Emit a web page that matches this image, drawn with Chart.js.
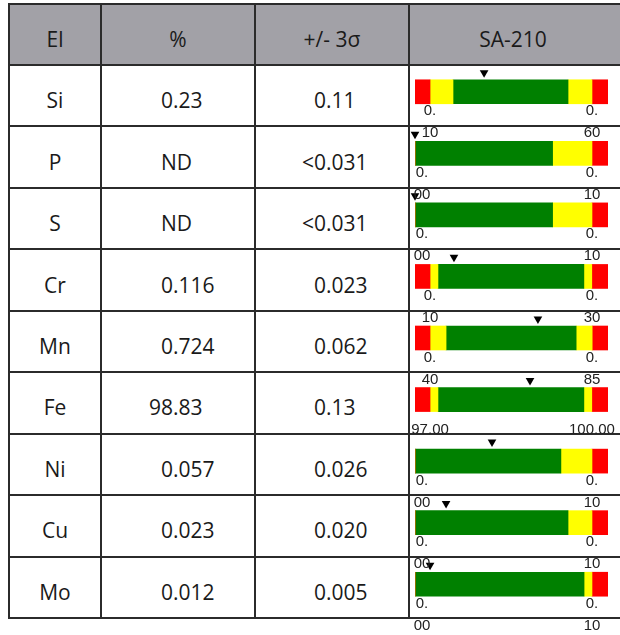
<!DOCTYPE html>
<html>
<head>
<meta charset="utf-8">
<script src="https://cdn.jsdelivr.net/npm/chart.js@4.4.0/dist/chart.umd.min.js"></script>
<style>
  html, body { margin: 0; padding: 0; background: #fff; overflow: hidden; }
  body { width: 620px; height: 635px; position: relative; font-family: "Open Sans", "Noto Sans", sans-serif; }
  table { position: absolute; left: 8px; top: 3px; border-collapse: collapse; table-layout: fixed; width: 616px; }
  th, td { border: 2px solid #2b2b2b; font-size: 21px; font-weight: normal; color: #1a1a1a;
           padding: 9px 0 0 0; vertical-align: middle; white-space: nowrap; overflow: visible; }
  th { background: #a2a1a7; text-align: center; }
  thead tr { height: 61px; }
  tbody tr { height: 61.44px; }
  td.el { text-align: center; }
  td.num { text-align: left; }
  td.pct { padding-left: 59px; }
  td.sig { padding-left: 58px; }
  th.gauge { padding-right: 8px; }
  .int { display: inline-flex; justify-content: flex-end; width: 1ch; }
  #gauge { position: absolute; left: 408px; top: 61px; width: 212px; height: 554px; z-index: 2; }
  #gaugeChart { display: block; }
  .lbl { position: absolute; transform: translateX(-50%); text-align: center; white-space: nowrap;
         font-family: "Liberation Sans", Arial, sans-serif; font-size: 15px; line-height: 22px; color: #222; }
</style>
</head>
<body>
<table id="tbl">
  <colgroup>
    <col style="width:92px"><col style="width:154px"><col style="width:154px"><col style="width:216px">
  </colgroup>
  <thead>
    <tr><th>El</th><th>%</th><th>+/- 3σ</th><th class="gauge">SA-210</th></tr>
  </thead>
  <tbody id="rows"></tbody>
</table>
<div id="gauge"><canvas id="gaugeChart" width="212" height="554"></canvas></div>

<script>
// Elementlar va natijalar
const elements = ['Si', 'P', 'S', 'Cr', 'Mn', 'Fe', 'Ni', 'Cu', 'Mo'];
const percent = ['0.23', 'ND', 'ND', '0.116', '0.724', '98.83', '0.057', '0.023', '0.012'];
const sigma3 = ['0.11', '<0.031', '<0.031', '0.023', '0.062', '0.13', '0.026', '0.020', '0.005'];

// SA-210 chegaralari (shkala yozuvlari)
const specMin = ['0.10', '0.00', '0.00', '0.10', '0.40', '97.00', '0.00', '0.00', '0.00'];
const specMax = ['0.60', '0.10', '0.10', '0.30', '0.85', '100.00', '0.10', '0.10', '0.10'];

// Shkala bo'laklari (shkala kengligidan %)
const redLow     = [7.8, 0, 0, 7.8, 7.8, 7.8, 0, 0, 0];
const yellowLow  = [11.9, 0, 0, 4.1, 8.3, 4.1, 0, 0, 0];
const greenBand  = [59.6, 71.3, 71.3, 75.6, 67.4, 75.6, 75.6, 79.3, 87.6];
const yellowHigh = [12.4, 20.4, 20.4, 4.1, 8.3, 4.1, 16.1, 12.4, 4.1];
const redHigh    = [8.3, 8.3, 8.3, 8.3, 8.3, 8.3, 8.3, 8.3, 8.3];

// Natija belgisi (shkala kengligidan %)
const marker = [35.8, 0, 0, 20.2, 63.7, 59.6, 39.9, 16.1, 7.8];

// Belgi shkaladan qancha yuqorida turadi (qator ulushida)
const MARKER_LIFT = 0.31;

// Jadval qatorlari
function sonKatak(text, cls) {
    const i = text.indexOf('.');
    if (i < 0) return `<td class="num ${cls}">${text}</td>`;
    return `<td class="num ${cls}"><span class="int">${text.slice(0, i)}</span>${text.slice(i)}</td>`;
}

const tbody = document.getElementById('rows');
tbody.innerHTML = elements.map((el, i) =>
    `<tr><td class="el">${el}</td>${sonKatak(percent[i], 'pct')}${sonKatak(sigma3[i], 'sig')}<td></td></tr>`
).join('');

// Shkala diagrammasi
const bands = [redLow, yellowLow, greenBand, yellowHigh, redHigh];
const bandColors = ['#ff0000', '#ffff00', '#008000', '#ffff00', '#ff0000'];

const ctx = document.getElementById('gaugeChart').getContext('2d');
const gaugeChart = new Chart(ctx, {
    type: 'bar',
    data: {
        labels: elements,
        datasets: [
            ...bands.map((d, k) => ({
                data: d,
                backgroundColor: bandColors[k],
                borderWidth: 0,
                grouped: false,
                barThickness: 24,
                maxBarThickness: 24,
                stack: 'g',
                xAxisID: 'x',
                yAxisID: 'y'
            })),
            {
                type: 'scatter',
                indexAxis: 'x',
                data: marker.map((v, i) => ({ x: v, y: i - MARKER_LIFT })),
                xAxisID: 'x',
                yAxisID: 'ym',
                pointStyle: 'triangle',
                rotation: 180,
                radius: 5,
                hoverRadius: 5,
                backgroundColor: '#000',
                borderColor: '#000',
                borderWidth: 0,
                clip: false
            }
        ]
    },
    options: {
        indexAxis: 'y',
        animation: false,
        responsive: false,
        devicePixelRatio: 1,
        layout: { autoPadding: false, padding: { left: 7, right: 12, top: 0, bottom: 0 } },
        plugins: {
            legend: { display: false },
            tooltip: { enabled: false }
        },
        scales: {
            x: { type: 'linear', min: 0, max: 100, stacked: true, display: false },
            y: { type: 'category', stacked: true, offset: true, display: false },
            ym: { type: 'linear', min: -0.5, max: 8.5, reverse: true, offset: false, display: false }
        }
    }
});

// Shkala yozuvlari (chegaralar)
const box = document.getElementById('gauge');
const area = gaugeChart.chartArea;
const sx = gaugeChart.scales.x;
const sy = gaugeChart.scales.y;

function yozuv(text, cx, cy) {
    const wrap = text.length <= 4;
    const d = document.createElement('div');
    d.className = 'lbl';
    d.innerHTML = wrap ? text.slice(0, 2) + '<br>' + text.slice(2) : text;
    d.style.left = cx + 'px';
    d.style.top = (cy + (wrap ? 7.5 : 18)) + 'px';
    box.appendChild(d);
}

elements.forEach((el, i) => {
    const cy = sy.getPixelForValue(i);
    const lo = Math.max(sx.getPixelForValue(redLow[i]), area.left + 7);
    const hi = sx.getPixelForValue(100 - redHigh[i]);
    yozuv(specMin[i], lo, cy);
    yozuv(specMax[i], hi, cy);
});
</script>
</body>
</html>
